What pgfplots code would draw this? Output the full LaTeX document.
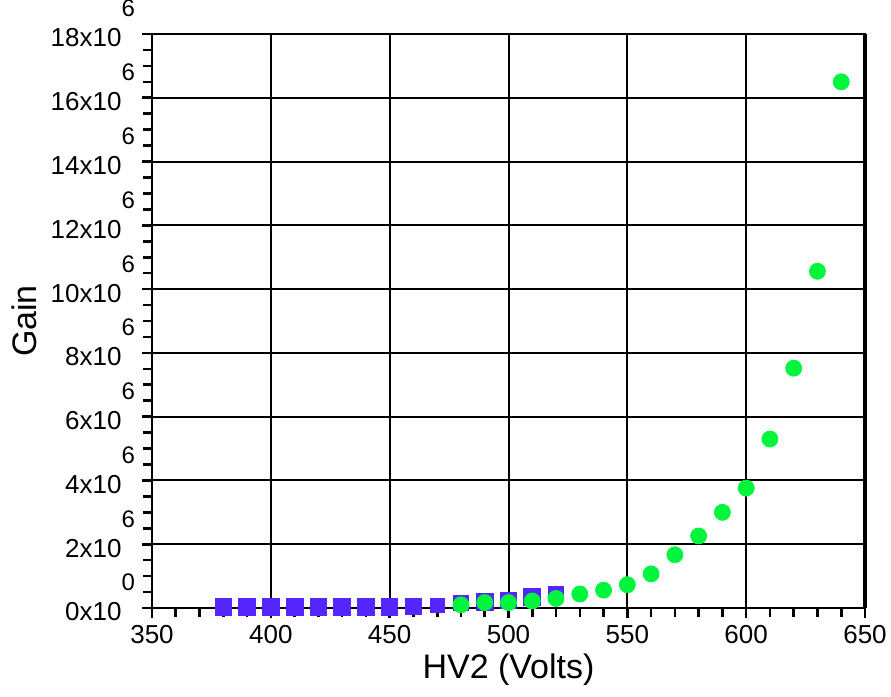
\documentclass[border=0pt]{standalone}
\usepackage{pgfplots}
\pgfplotsset{compat=1.18}
\usepackage{fontspec}
\setmainfont{Liberation Sans}
\definecolor{sqblue}{RGB}{84,38,252}
\definecolor{dotgreen}{RGB}{0,245,60}
\newcommand{\yl}[2]{#1x10\smash{\raisebox{15pt}{\fontsize{12}{14}\selectfont #2}}}
\begin{document}
\begin{tikzpicture}
\begin{axis}[
  scale only axis,
  width=356.5pt, height=287pt,
  xmin=350, xmax=650, ymin=0, ymax=18000000,
  xtick={350,400,...,650},
  minor x tick num=4,
  ytick={0,2000000,4000000,6000000,8000000,10000000,12000000,14000000,16000000,18000000},
  yticklabels={\yl{0}{0},\yl{2}{6},\yl{4}{6},\yl{6}{6},\yl{8}{6},\yl{10}{6},\yl{12}{6},\yl{14}{6},\yl{16}{6},\yl{18}{6}},
  scaled y ticks=false,
  minor y tick num=3,
  xtick pos=bottom, ytick pos=left,
  tick align=outside,
  major tick length=5pt, minor tick length=4.5pt,
  every tick/.style={black, line width=1.3pt},
  minor tick style={black, line width=1.3pt},
  grid=major,
  major grid style={black, line width=1pt},
  axis line style={black, line width=1.2pt},
  /pgf/number format/assume math mode=true,
  /pgf/number format/1000 sep={},
  xticklabel style={font=\fontsize{13}{15}\selectfont},
  yticklabel style={font=\fontsize{13}{15}\selectfont, yshift=-2pt},
  xlabel={HV2 (Volts)},
  ylabel={Gain},
  xlabel style={font=\fontsize{17}{20}\selectfont, at={(axis description cs:0.5,0)}, anchor=center, yshift=-31pt},
  ylabel style={font=\fontsize{17}{20}\selectfont, at={(axis description cs:0,0.5)}, anchor=center, yshift=64pt},
  clip=false,
]
\addplot[scatter, only marks, mark=square*,
  scatter/use mapped color={draw=sqblue, fill=sqblue},
  visualization depends on={\thisrow{s} \as \msz},
  scatter/@pre marker code/.append style={/tikz/mark size=\msz pt}]
table {
x y s
380 30000 4.2
390 30000 4.2
400 30000 4.2
410 30000 4.2
420 30000 4.2
430 30000 4.2
440 30000 4.2
450 30000 4.1
460 40000 4.0
470 70000 3.5
480 150000 3.8
490 190000 4.1
500 250000 4.0
510 350000 4.3
520 430000 3.8
};
\addplot[only marks, mark=*, mark size=4pt, draw=dotgreen, fill=dotgreen]
table {
x y
480 100000
490 170000
500 170000
510 220000
520 300000
530 440000
540 560000
550 730000
560 1070000
570 1670000
580 2260000
590 3000000
600 3760000
610 5300000
620 7520000
630 10560000
640 16500000
};
\draw[black, line width=2.2pt] (rel axis cs:1,0) -- (rel axis cs:1,1);
\end{axis}
\pgfresetboundingbox
\path[use as bounding box] ([xshift=-76pt,yshift=-44pt]current axis.south west) rectangle ([xshift=13pt,yshift=17pt]current axis.north east);
\end{tikzpicture}
\end{document}
